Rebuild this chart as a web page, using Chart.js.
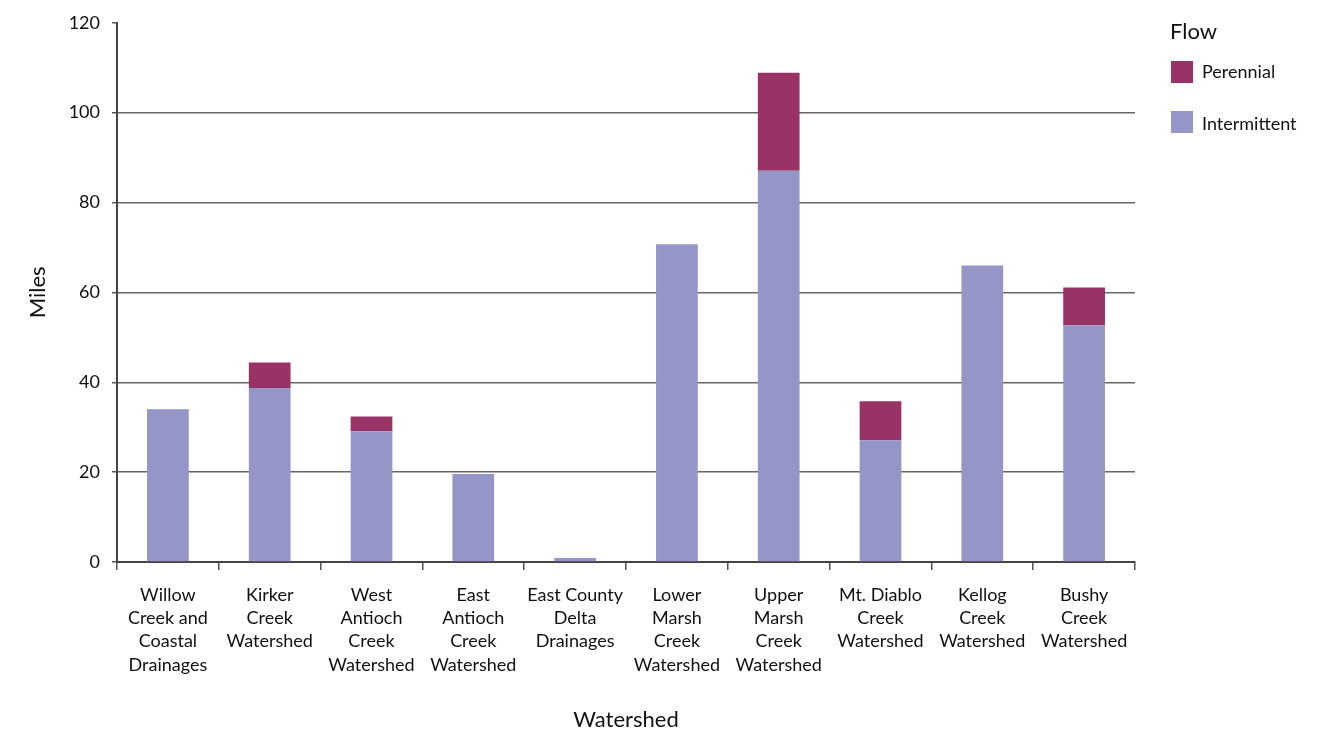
<!DOCTYPE html>
<html>
<head>
<meta charset="utf-8">
<script src="https://cdn.jsdelivr.net/npm/chart.js@4"></script>
<style>
	html, body { margin: 0; padding: 0; background: #fff; }
	#wrap { width: 1329px; height: 733px; position: relative; }
</style>
</head>
<body>
<div id="wrap"><canvas id="chart"></canvas></div>
<script>
// Watershed categories (multi-line labels as in the original)
const watersheds = [
	["Willow", "Creek and", "Coastal", "Drainages"],
	["Kirker", "Creek", "Watershed"],
	["West", "Antioch", "Creek", "Watershed"],
	["East", "Antioch", "Creek", "Watershed"],
	["East County", "Delta", "Drainages"],
	["Lower", "Marsh", "Creek", "Watershed"],
	["Upper", "Marsh", "Creek", "Watershed"],
	["Mt. Diablo", "Creek", "Watershed"],
	["Kellog", "Creek", "Watershed"],
	["Bushy", "Creek", "Watershed"],
];

// Miles of stream
const intermittentMiles = [34.0, 38.7, 29.1, 19.6, 0.9, 70.7, 87.1, 27.1, 66.0, 52.7];
const perennialMiles = [0, 5.7, 3.3, 0, 0, 0, 21.8, 8.7, 0, 8.4];

const yMin = 0;
const yMax = 120;
const yStep = 20;

const FONT = "Lato, 'Open Sans', sans-serif";
const TEXT = "#111";

// Legend on the right, drawn from the datasets (Perennial listed first)
const flowLegend = {
	id: "flowLegend",
	afterDraw(chart) {
		const ctx = chart.ctx;
		const sets = chart.data.datasets.slice().reverse();
		ctx.save();
		ctx.fillStyle = TEXT;
		ctx.textBaseline = "middle";
		ctx.textAlign = "left";
		ctx.font = "22px " + FONT;
		ctx.fillText("Flow", 1170, 32);
		ctx.font = "18px " + FONT;
		sets.forEach((ds, i) => {
			const y = 61 + i * 50;
			ctx.fillStyle = ds.backgroundColor;
			ctx.fillRect(1171, y, 22, 22);
			ctx.fillStyle = TEXT;
			ctx.fillText(ds.label, 1202, y + 11 + i * 2);
		});
		ctx.restore();
	},
};

const ctx = document.getElementById("chart").getContext("2d");
new Chart(ctx, {
	type: "bar",
	data: {
		labels: watersheds,
		datasets: [
			{
				label: "Intermittent",
				data: intermittentMiles,
				backgroundColor: "#9595c7",
				barPercentage: 0.41,
				categoryPercentage: 1,
			},
			{
				label: "Perennial",
				data: perennialMiles,
				backgroundColor: "#993366",
				barPercentage: 0.41,
				categoryPercentage: 1,
			},
		],
	},
	options: {
		responsive: true,
		maintainAspectRatio: false,
		animation: false,
		layout: {
			padding: { top: 22, right: 194, bottom: 0, left: 0 },
		},
		plugins: {
			legend: { display: false },
			tooltip: { enabled: false },
		},
		scales: {
			x: {
				stacked: true,
				afterFit: (scale) => {
					scale.height = 171;
				},
				grid: {
					drawOnChartArea: false,
					tickLength: 8,
					color: "#555",
					lineWidth: 1.5,
				},
				border: { color: "#444", width: 2 },
				ticks: {
					color: TEXT,
					font: { family: FONT, size: 18, lineHeight: 1.3 },
					padding: 13,
					maxRotation: 0,
					autoSkip: false,
				},
				title: {
					display: true,
					text: "Watershed",
					color: TEXT,
					font: { family: FONT, size: 22 },
					padding: { top: 0, bottom: 0 },
				},
			},
			y: {
				stacked: true,
				min: yMin,
				max: yMax,
				afterFit: (scale) => {
					scale.width = 117;
				},
				grid: {
					color: (c) => (c.tick && c.tick.value === yMax ? "rgba(0,0,0,0)" : "#666"),
					tickColor: "#555",
					lineWidth: 1.5,
					tickLength: 5,
				},
				border: { color: "#444", width: 2 },
				ticks: {
					stepSize: yStep,
					color: TEXT,
					font: { family: FONT, size: 18 },
					padding: 12,
				},
				title: {
					display: true,
					text: "Miles",
					color: TEXT,
					font: { family: FONT, size: 22 },
					padding: { top: 25, bottom: 0 },
				},
			},
		},
	},
	plugins: [flowLegend],
});
</script>
</body>
</html>
